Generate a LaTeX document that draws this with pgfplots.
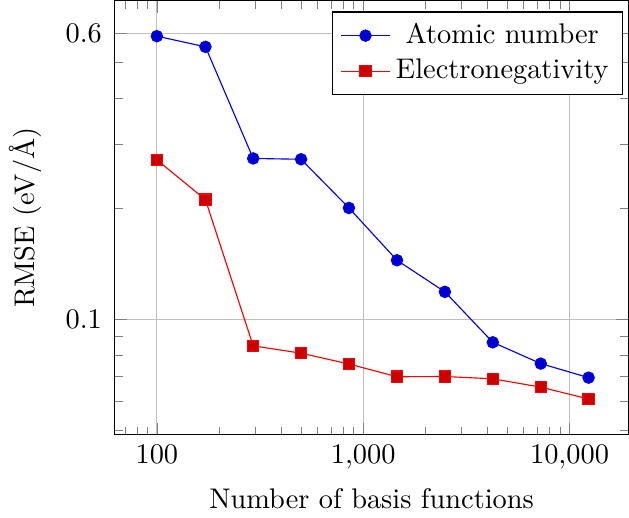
\documentclass[border=0pt]{standalone}
\usepackage{pgfplots}
\pgfplotsset{compat=1.18}

\begin{document}
\begin{tikzpicture}
\begin{loglogaxis}[
    scale only axis,
    width=181pt,
    height=153pt,
    xmin=62.5, xmax=19300,
    ymin=0.0486, ymax=0.736,
    ytick={0.1,0.6},
    minor ytick={0.05,0.06,0.07,0.08,0.09,0.2,0.3,0.4,0.5},
    log ticks with fixed point,
    grid=major,
    xlabel={Number of basis functions},
    ylabel={RMSE (eV/\AA)},
    ylabel shift=1.5pt,
    yticklabel style={xshift=-1pt},
    legend style={at={(0.99,0.975)},anchor=north east},
]
\addplot coordinates {
    (100,0.589) (172,0.551) (293,0.274) (500,0.2726) (853,0.2010)
    (1458,0.1449) (2489,0.1189) (4247,0.0867) (7255,0.0759) (12370,0.0695)
};
\addlegendentry{Atomic number}
\addplot coordinates {
    (100,0.2716) (172,0.2117) (293,0.0848) (500,0.0810) (853,0.0757)
    (1458,0.0699) (2489,0.0700) (4247,0.0690) (7255,0.0655) (12370,0.0608)
};
\addlegendentry{Electronegativity}
\end{loglogaxis}
\end{tikzpicture}
\end{document}
